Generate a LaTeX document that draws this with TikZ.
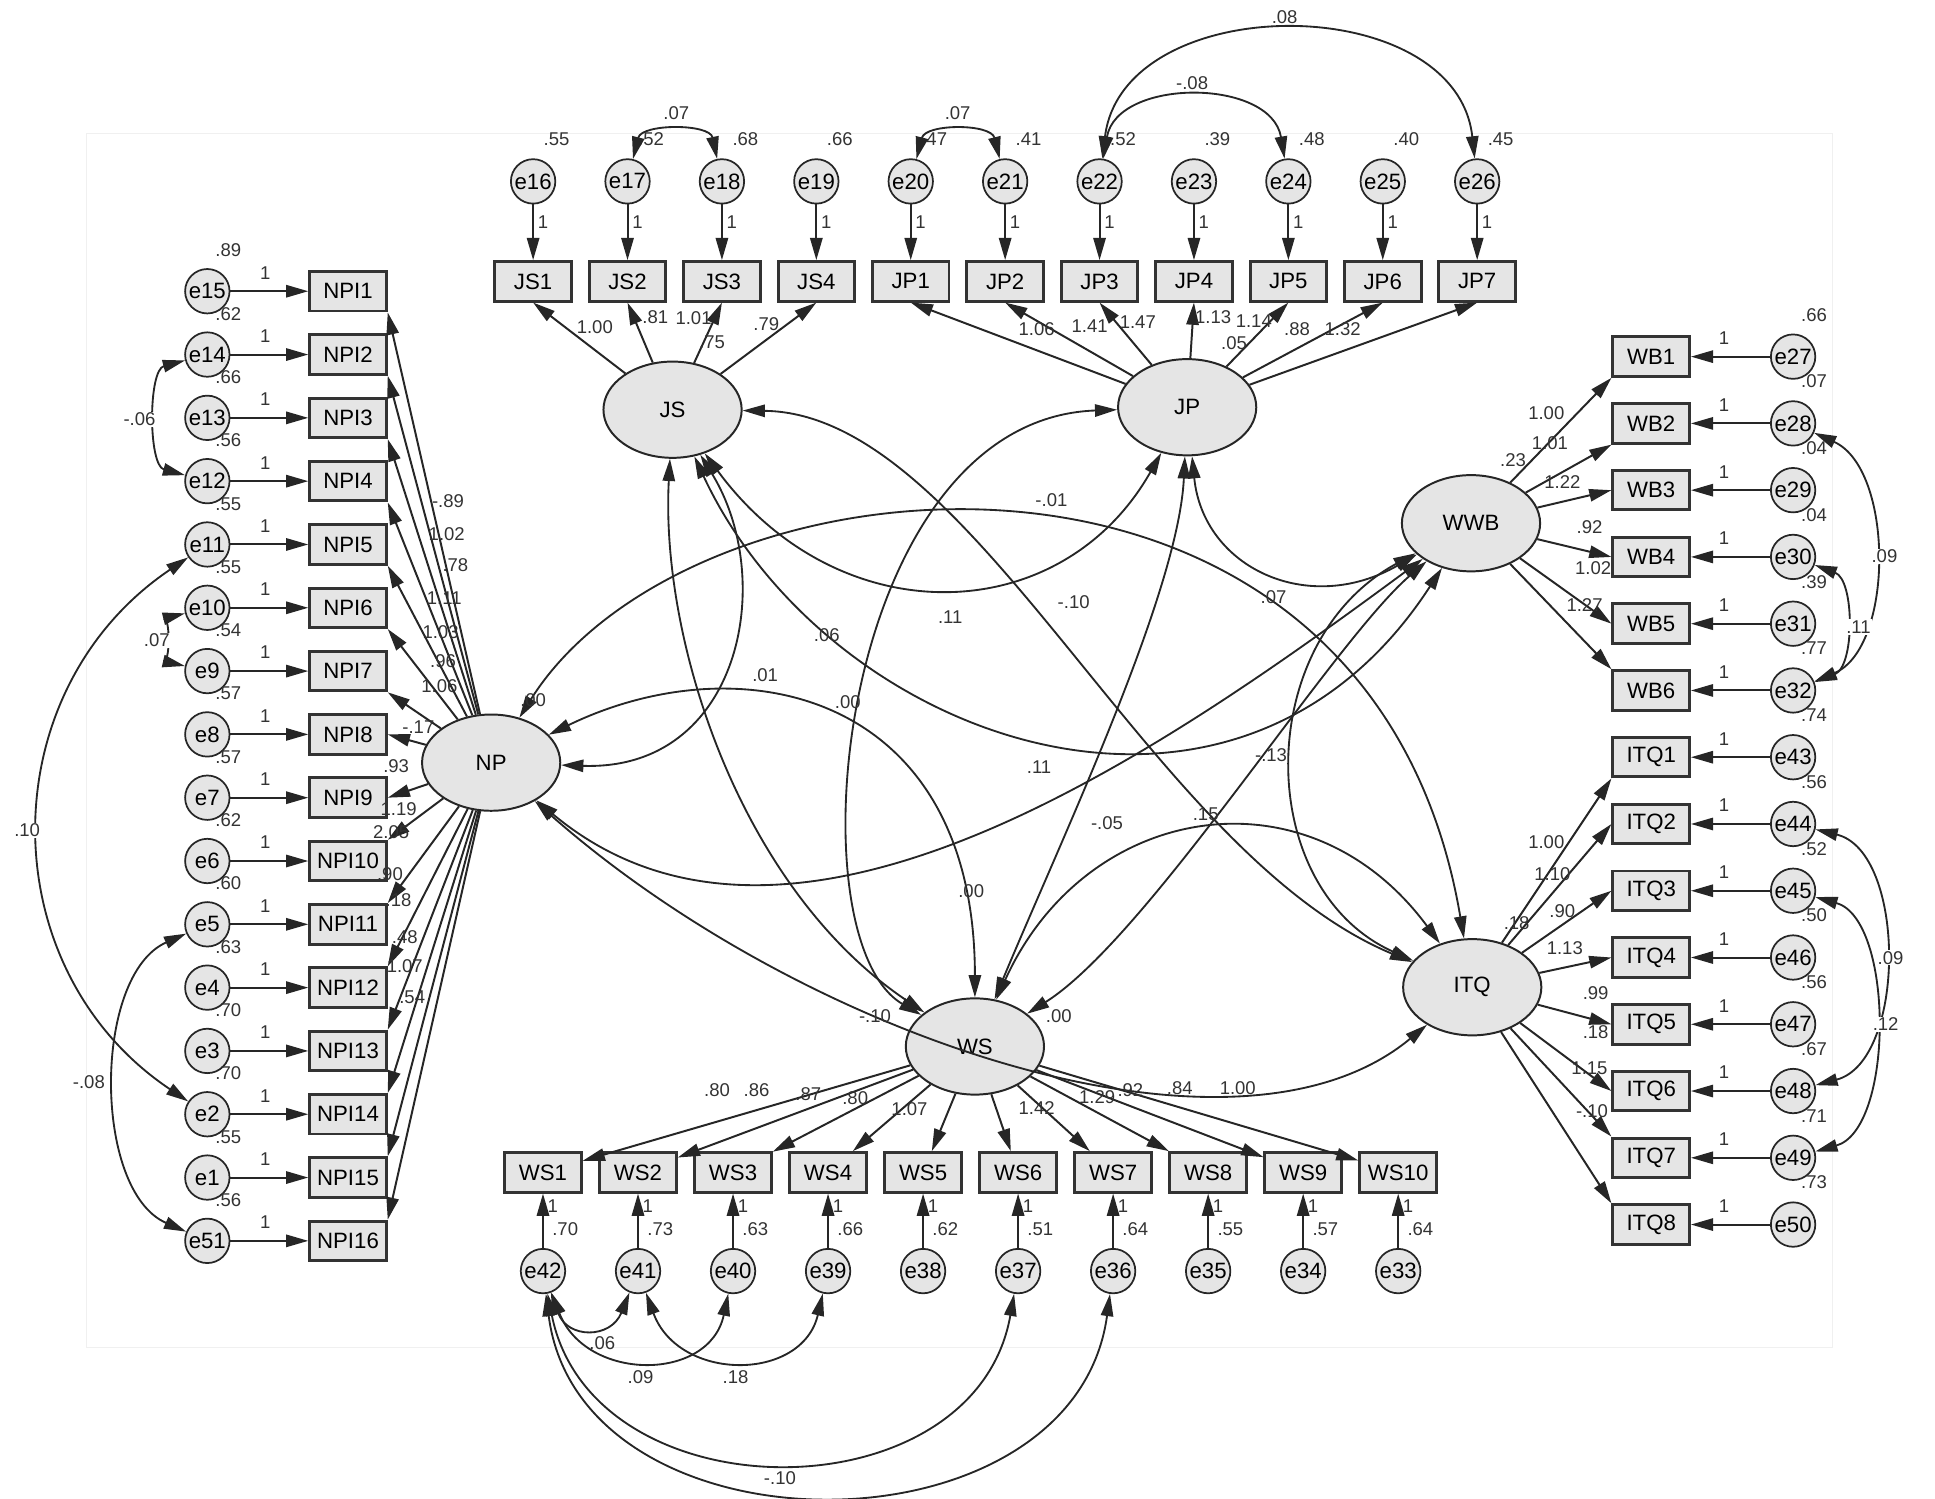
\documentclass[tikz,border=0pt]{standalone}
\usepackage{fontspec}
\setmainfont{Liberation Sans}
\usetikzlibrary{shapes.geometric}
\usetikzlibrary{arrows.meta}
\usetikzlibrary{positioning}
\tikzset{
  obs/.style={rectangle, draw=black!80, line width=1.2pt, fill=gray!20,
    minimum width=31pt, minimum height=16pt, inner sep=0pt,
    font=\fontsize{9}{10}\selectfont},
  err/.style={circle, draw=black!85, line width=0.7pt, fill=gray!20,
    minimum size=18pt, inner sep=0pt, font=\fontsize{9}{10}\selectfont},
  lat/.style={ellipse, draw=black!85, line width=0.8pt, fill=gray!20,
    minimum width=56pt, minimum height=39pt, inner sep=0pt,
    font=\fontsize{9}{10}\selectfont},
  lbl/.style={inner sep=0.5pt, font=\fontsize{7.5}{8}\selectfont, text=black!80},
  wlbl/.style={lbl, fill=white},
  reg/.style={-{Triangle[length=9pt,width=5pt]}, line width=0.8pt, draw=black!85},
  cov/.style={{Triangle[length=9pt,width=5pt]}-{Triangle[length=9pt,width=5pt]},
    line width=0.75pt, draw=black!85}
}
\begin{document}
\begin{tikzpicture}[x=0.5pt, y=-0.5pt]
\useasboundingbox (0,0) rectangle (1568,1214);
\draw[gray!12, line width=0.6pt] (70,108) rectangle (1485,1092);

% NP indicators
\foreach \e/\v [count=\i] in {15/.89,14/.62,13/.66,12/.56,11/.55,10/.55,9/.54,8/.57,
    7/.57,6/.62,5/.60,4/.63,3/.70,2/.70,1/.55,51/.56}{
  \pgfmathsetmacro\yy{236+51.3*(\i-1)}
  \node[obs] (NPI\i) at (282,\yy) {NPI\i};
  \node[err] (e\e) at (168,\yy) {e\e};
  \draw[reg] (e\e) -- (NPI\i);
  \node[lbl] (one\e) at (215,\yy-15) {1};
  \node[lbl] (var\e) at (185,\yy-33) {\v};
}

% JS and JP indicators
\foreach \b/\e/\v [count=\i] in {JS1/16/.55,JS2/17/.52,JS3/18/.68,JS4/19/.66,
    JP1/20/.47,JP2/21/.41,JP3/22/.52,JP4/23/.39,JP5/24/.48,JP6/25/.40,JP7/26/.45}{
  \pgfmathsetmacro\xx{432+76.5*(\i-1)}
  \node[obs] (\b) at (\xx,228) {\b};
  \node[err] (e\e) at (\xx,147) {e\e};
  \draw[reg] (e\e) -- (\b);
  \node[lbl] (one\e) at (\xx+8,180) {1};
  \node[lbl] (var\e) at (\xx+19,113) {\v};
}

% WWB and ITQ indicators
\foreach \b/\e/\v [count=\i] in {WB1/27/.66,WB2/28/.07,WB3/29/.04,WB4/30/.04,
    WB5/31/.39,WB6/32/.77,ITQ1/43/.74,ITQ2/44/.56,ITQ3/45/.52,ITQ4/46/.50,
    ITQ5/47/.56,ITQ6/48/.67,ITQ7/49/.71,ITQ8/50/.73}{
  \pgfmathsetmacro\yy{289+54.1*(\i-1)}
  \node[obs] (\b) at (1338,\yy) {\b};
  \node[err] (e\e) at (1453,\yy) {e\e};
  \draw[reg] (e\e) -- (\b);
  \node[lbl] (one\e) at (1397,\yy-15) {1};
  \node[lbl] (var\e) at (1470,\yy-34) {\v};
}

% WS indicators
\foreach \e/\v [count=\i] in {42/.70,41/.73,40/.63,39/.66,38/.62,37/.51,36/.64,
    35/.55,34/.57,33/.64}{
  \pgfmathsetmacro\xx{440+77*(\i-1)}
  \node[obs] (WS\i) at (\xx,950) {WS\i};
  \node[err] (e\e) at (\xx,1030) {e\e};
  \draw[reg] (e\e) -- (WS\i);
  \node[lbl] (one\e) at (\xx+8,977) {1};
  \node[lbl] (var\e) at (\xx+18,996) {\v};
}

% latent variables
\node[lat] (JS) at (545,332) {JS};
\node[lat] (JP) at (962,330) {JP};
\node[lat] (WWB) at (1192,424) {WWB};
\node[lat] (ITQ) at (1193,800) {ITQ};
\node[lat] (NP) at (398,618) {NP};
\node[lat] (WS) at (790,848) {WS};

% loadings
\foreach \i in {1,...,7} \draw[reg] (NP) -- (NPI\i.south east);
\foreach \i in {8,9} \draw[reg] (NP) -- (NPI\i.east);
\foreach \i in {10,...,16} \draw[reg] (NP) -- (NPI\i.north east);
\foreach \b in {JS1,JS2,JS3,JS4} \draw[reg] (JS) -- (\b.south);
\foreach \b in {JP1,JP2,JP3,JP4,JP5,JP6,JP7} \draw[reg] (JP) -- (\b.south);
\foreach \b/\a in {WB1/south west,WB2/south west,WB3/west,WB4/west,WB5/west,
    WB6/north west} \draw[reg] (WWB) -- (\b.\a);
\foreach \b/\a in {ITQ1/south west,ITQ2/west,ITQ3/west,ITQ4/west,ITQ5/west,
    ITQ6/west,ITQ7/north west,ITQ8/north west} \draw[reg] (ITQ) -- (\b.\a);
\foreach \i in {1,...,10} \draw[reg] (WS) -- (WS\i);

% covariances between latents
\draw[cov] (NP) .. controls (600,625) and (630,470) .. (JS);
\draw[cov] (JS) .. controls (680,515) and (860,510) .. (JP);
\draw[cov] (JS) .. controls (670,600) and (1000,720) .. (WWB);
\draw[cov] (JS) .. controls (790,335) and (930,690) .. (ITQ);
\draw[cov] (JS) .. controls (535,520) and (600,720) .. (WS);
\draw[cov] (JP) .. controls (680,340) and (640,760) .. (WS);
\draw[cov] (JP) .. controls (975,460) and (1060,500) .. (WWB);
\draw[cov] (JP) .. controls (955,480) and (860,680) .. (WS);
\draw[cov] (NP) .. controls (560,360) and (1110,310) .. (ITQ);
\draw[cov] (NP) .. controls (640,820) and (940,610) .. (WWB);
\draw[cov] (NP) .. controls (600,520) and (790,560) .. (WS);
\draw[cov] (NP) .. controls (650,840) and (1000,960) .. (ITQ);
\draw[cov] (WWB) .. controls (1015,520) and (1015,720) .. (ITQ);
\draw[cov] (WWB) .. controls (1080,520) and (930,760) .. (WS);
\draw[cov] (WS) .. controls (880,650) and (1060,620) .. (ITQ);

% covariances between errors
\draw[cov] (e14) .. controls (120,300) and (120,377) .. (e12);
\draw[cov] (e10) .. controls (138,500) and (138,537) .. (e9);
\draw[cov] (e11) .. controls (-8,560) and (-8,785) .. (e2);
\draw[cov] (e5) .. controls (75,790) and (75,965) .. (e51);
\draw[cov] (e17) .. controls (520,100) and (575,100) .. (e18);
\draw[cov] (e20) .. controls (750,100) and (803,100) .. (e21);
\draw[cov] (e22) .. controls (905,63) and (1030,63) .. (e24);
\draw[cov] (e22) .. controls (910,-9) and (1180,-9) .. (e26);
\draw[cov] (e28) .. controls (1535,380) and (1535,525) .. (e32);
\draw[cov] (e30) .. controls (1503,470) and (1503,540) .. (e32);
\draw[cov] (e44) .. controls (1545,690) and (1545,860) .. (e48);
\draw[cov] (e45) .. controls (1535,745) and (1535,915) .. (e49);
\draw[cov] (e42) .. controls (460,1085) and (495,1085) .. (e41);
\draw[cov] (e42) .. controls (475,1120) and (575,1120) .. (e40);
\draw[cov] (e41) .. controls (550,1120) and (650,1120) .. (e39);
\draw[cov] (e42) .. controls (480,1230) and (790,1230) .. (e37);
\draw[cov] (e42) .. controls (470,1265) and (870,1265) .. (e36);

% estimates
\foreach \x/\y/\lab [count=\k] in {363/406/-.89,362/433/1.02,369/458/.78,360/485/1.11,
    357/512/1.03,359/536/.96,356/556/1.06,339/589/-.17,321/621/.93,323/656/1.19,
    317/674/2.05,316/708/.90,323/729/.18,328/759/.48,328/783/1.07,334/808/.54,
    482/265/1.00,531/257/.81,562/258/1.01,621/263/.79,577/277/.75,
    840/267/1.06,883/264/1.41,922/261/1.47,983/257/1.13,1016/260/1.14,1000/278/.05,
    1051/267/.88,1088/267/1.32,
    1253/335/1.00,1256/359/1.01,1226/373/.23,1266/391/1.22,1288/427/.92,
    1291/460/1.02,1284/490/1.27,
    1253/682/1.00,1258/708/1.10,1229/748/.18,1266/738/.90,1268/768/1.13,
    1293/805/.99,1293/836/.18,1288/866/1.15,1290/900/-.10,
    581/883/.80,613/883/.86,655/887/.87,693/890/.80,737/899/1.07,840/898/1.42,
    889/889/1.29,916/883/.92,956/882/.84,1003/882/1.00,
    620/547/.01,770/500/.11,670/515/.06,870/488/-.10,709/823/-.10,687/569/.00,
    1032/484/.07,897/667/-.05,852/405/-.01,842/622/.11,787/722/.00,858/823/.00,
    1030/612/-.13,977/660/.15,432/567/.00,
    548/92/.07,776/92/.07,966/67/-.08,1041/14/.08,
    488/1088/.06,519/1116/.09,596/1116/.18}
  \node[lbl] (est\k) at (\x,\y) {\lab};
\foreach \x/\y/\lab [count=\k] in {113/340/-.06,127/519/.07,22/673/.10,72/877/-.08,
    1527/451/.09,1506/508/.11,1532/776/.09,1528/830/.12,632/1198/-.10}
  \node[wlbl] (cv\k) at (\x,\y) {\lab};
\end{tikzpicture}
\end{document}
